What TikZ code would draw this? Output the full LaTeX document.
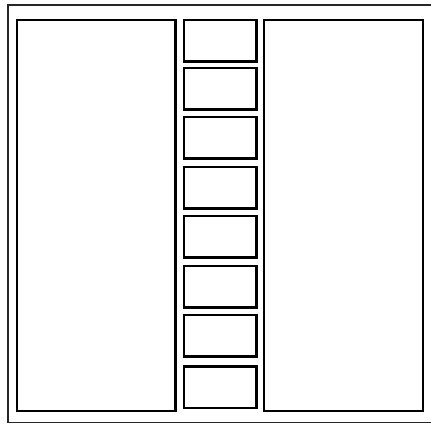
\documentclass[tikz,border=0pt]{standalone}
\usetikzlibrary{positioning}
\begin{document}
\begin{tikzpicture}[x=1pt,y=-1pt,
  frame/.style={draw=black!85,line width=1.5pt},
  panel/.style={draw,line width=2.2pt,inner sep=0pt,outer sep=0pt,anchor=north west,
    minimum width=158.5pt,minimum height=391pt},
  slot/.style={draw,line width=2.2pt,inner sep=0pt,outer sep=0pt,anchor=north west,
    minimum width=72.5pt,minimum height=41.5pt}]
  \useasboundingbox (0,0) rectangle (431,424);
  % outer casing
  \draw[frame] (8,5) rectangle (434,422.5);
  % side panels
  \node[panel] (left) at (17,20) {};
  \node[panel] (right) at (264.2,20) {};
  % middle column of slots
  \foreach \t [count=\i] in {20,68,117,167,216,266,315,366.5}
    \node[slot] (slot\i) at (184,\t) {};
\end{tikzpicture}
\end{document}
